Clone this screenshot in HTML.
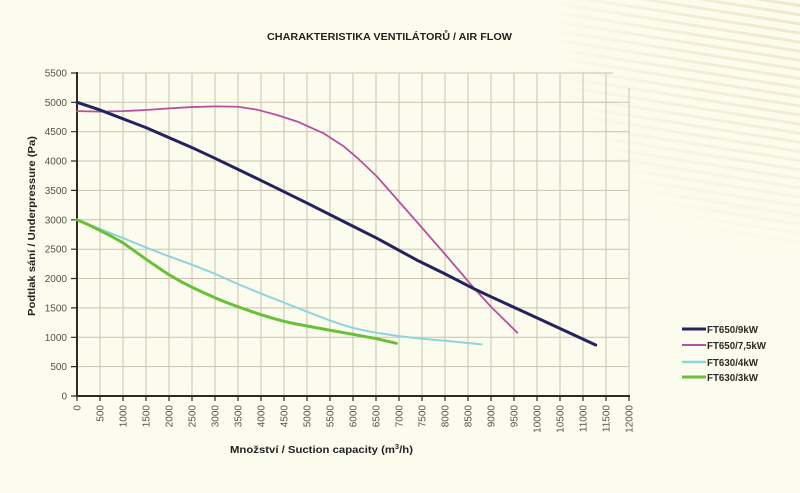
<!DOCTYPE html>
<html>
<head>
<meta charset="utf-8">
<style>
html,body{margin:0;padding:0;}
body{width:800px;height:493px;overflow:hidden;background:#fcfcee;}
svg{display:block;}
</style>
</head>
<body>
<svg width="800" height="493" viewBox="0 0 800 493" xmlns="http://www.w3.org/2000/svg">
<defs>
<pattern id="stripes" patternUnits="userSpaceOnUse" width="900" height="9" patternTransform="rotate(9)">
<rect width="900" height="9" fill="#fcfcee"/>
<rect y="5" width="900" height="3" fill="#efe7c9"/>
</pattern>
<radialGradient id="fade" cx="800" cy="0" r="260" gradientUnits="userSpaceOnUse">
<stop offset="0" stop-color="#fff" stop-opacity="1"/>
<stop offset="0.5" stop-color="#fff" stop-opacity="0.65"/>
<stop offset="1" stop-color="#fff" stop-opacity="0"/>
</radialGradient>
<mask id="m">
<rect x="0" y="0" width="800" height="493" fill="url(#fade)"/>
</mask>
</defs>
<rect width="800" height="493" fill="#fcfcee"/>
<rect x="560" y="0" width="240" height="300" fill="url(#stripes)" mask="url(#m)"/>

<!-- grid -->
<g stroke="#c2b8a5" stroke-width="1" fill="none" opacity="0.85">
<path d="M77 366.6H629M77 337.3H629M77 307.9H629M77 278.5H629M77 249.2H629M77 219.8H629M77 190.4H629M77 161H629M77 131.7H629M77 102.3H629M77 73H613"/>
<path d="M100 73V396M123 73V396M146 73V396M169 73V396M192 73V396M215 73V396M238 73V396M261 73V396M284 73V396M307 73V396M330 73V396M353 73V396M376 73V396M399 73V396M422 73V396M445 73V396M468 73V396M491 73V396M514 73V396M537 73V396M560 73V396M583 73V396M606 73V396M629 88V396"/>
</g>

<!-- axes -->
<g stroke="#2e2c22" stroke-width="2" fill="none">
<path d="M77 72V397M76 396H630"/>
</g>
<g stroke="#2e2c22" stroke-width="1.2" fill="none">
<path d="M71 396H77M71 366.6H77M71 337.3H77M71 307.9H77M71 278.5H77M71 249.2H77M71 219.8H77M71 190.4H77M71 161H77M71 131.7H77M71 102.3H77M71 73H77"/>
<path d="M77 396V401M100 396V401M123 396V401M146 396V401M169 396V401M192 396V401M215 396V401M238 396V401M261 396V401M284 396V401M307 396V401M330 396V401M353 396V401M376 396V401M399 396V401M422 396V401M445 396V401M468 396V401M491 396V401M514 396V401M537 396V401M560 396V401M583 396V401M606 396V401M629 396V401"/>
</g>

<!-- y tick labels -->
<g font-family="Liberation Sans, sans-serif" font-size="10" fill="#55534a" text-anchor="end">
<text x="67" y="399.5">0</text>
<text x="67" y="370.1">500</text>
<text x="67" y="340.8">1000</text>
<text x="67" y="311.4">1500</text>
<text x="67" y="282">2000</text>
<text x="67" y="252.7">2500</text>
<text x="67" y="223.3">3000</text>
<text x="67" y="193.9">3500</text>
<text x="67" y="164.5">4000</text>
<text x="67" y="135.2">4500</text>
<text x="67" y="105.8">5000</text>
<text x="67" y="76.5">5500</text>
</g>

<!-- x tick labels -->
<g font-family="Liberation Sans, sans-serif" font-size="10" fill="#55534a" text-anchor="end">
<text transform="translate(80.5,405) rotate(-90)">0</text>
<text transform="translate(103.5,405) rotate(-90)">500</text>
<text transform="translate(126.5,405) rotate(-90)">1000</text>
<text transform="translate(149.5,405) rotate(-90)">1500</text>
<text transform="translate(172.5,405) rotate(-90)">2000</text>
<text transform="translate(195.5,405) rotate(-90)">2500</text>
<text transform="translate(218.5,405) rotate(-90)">3000</text>
<text transform="translate(241.5,405) rotate(-90)">3500</text>
<text transform="translate(264.5,405) rotate(-90)">4000</text>
<text transform="translate(287.5,405) rotate(-90)">4500</text>
<text transform="translate(310.5,405) rotate(-90)">5000</text>
<text transform="translate(333.5,405) rotate(-90)">5500</text>
<text transform="translate(356.5,405) rotate(-90)">6000</text>
<text transform="translate(379.5,405) rotate(-90)">6500</text>
<text transform="translate(402.5,405) rotate(-90)">7000</text>
<text transform="translate(425.5,405) rotate(-90)">7500</text>
<text transform="translate(448.5,405) rotate(-90)">8000</text>
<text transform="translate(471.5,405) rotate(-90)">8500</text>
<text transform="translate(494.5,405) rotate(-90)">9000</text>
<text transform="translate(517.5,405) rotate(-90)">9500</text>
<text transform="translate(540.5,405) rotate(-90)">10000</text>
<text transform="translate(563.5,405) rotate(-90)">10500</text>
<text transform="translate(586.5,405) rotate(-90)">11000</text>
<text transform="translate(609.5,405) rotate(-90)">11500</text>
<text transform="translate(632.5,405) rotate(-90)">12000</text>
</g>

<!-- series -->
<g transform="translate(77,396) scale(0.046,-0.05873)" fill="none" stroke-linejoin="round" stroke-linecap="round">
<polyline vector-effect="non-scaling-stroke" stroke="#8ed5da" stroke-width="2"
 points="0,3000 500,2845 1000,2690 1500,2530 2000,2378 2500,2235 3000,2080 3500,1905 4000,1745 4500,1590 5000,1435 5500,1285 5750,1218 6000,1160 6250,1115 6500,1078 7000,1020 7500,975 8000,940 8797,880"/>
<polyline vector-effect="non-scaling-stroke" stroke="#6abf3a" stroke-width="3"
 points="0,3000 250,2915 500,2820 750,2718 1000,2608 1250,2470 1500,2330 1750,2195 2000,2065 2250,1952 2500,1852 2750,1760 3000,1672 3250,1592 3500,1520 3750,1450 4000,1385 4250,1325 4500,1272 4750,1228 5000,1192 5500,1120 6000,1050 6500,978 6942,897"/>
<polyline vector-effect="non-scaling-stroke" stroke="#b8509e" stroke-width="1.8"
 points="0,4850 500,4842 1000,4850 1500,4870 2000,4898 2500,4920 3000,4932 3500,4925 3913,4875 4348,4785 4800,4670 5362,4472 5800,4250 6100,4050 6522,3735 7000,3310 7500,2865 8109,2316 8652,1817 9000,1520 9572,1078"/>
<polyline vector-effect="non-scaling-stroke" stroke="#23235e" stroke-width="3"
 points="0,5000 500,4870 1000,4720 1500,4570 2000,4400 2500,4230 3000,4047 4000,3670 5000,3285 6000,2890 6522,2685 7384,2316 8000,2080 8652,1817 9000,1690 10065,1306 11276,868"/>
</g>

<!-- legend -->
<g stroke-width="3" fill="none">
<line x1="682" y1="329" x2="706" y2="329" stroke="#23235e"/>
<line x1="682" y1="345" x2="706" y2="345" stroke="#b8509e" stroke-width="2"/>
<line x1="682" y1="362" x2="706" y2="362" stroke="#8ed5da" stroke-width="2.5"/>
<line x1="682" y1="377" x2="706" y2="377" stroke="#6abf3a"/>
</g>
<g font-family="Liberation Sans, sans-serif" font-size="10" font-weight="bold" fill="#2a2a26">
<text x="707" y="333" textLength="51" lengthAdjust="spacingAndGlyphs">FT650/9kW</text>
<text x="707" y="349" textLength="59" lengthAdjust="spacingAndGlyphs">FT650/7,5kW</text>
<text x="707" y="366" textLength="51" lengthAdjust="spacingAndGlyphs">FT630/4kW</text>
<text x="707" y="381" textLength="51" lengthAdjust="spacingAndGlyphs">FT630/3kW</text>
</g>

<!-- title -->
<text x="267" y="40" font-family="Liberation Sans, sans-serif" font-size="10" font-weight="bold" fill="#222" textLength="245" lengthAdjust="spacingAndGlyphs">CHARAKTERISTIKA VENTILÁTORŮ / AIR FLOW</text>

<!-- x axis label -->
<text x="230" y="453" font-family="Liberation Sans, sans-serif" font-size="10.5" font-weight="bold" fill="#222" textLength="183" lengthAdjust="spacingAndGlyphs">Množství / Suction capacity (m<tspan font-size="7" dy="-4">3</tspan><tspan dy="4">/h)</tspan></text>

<!-- y axis label -->
<text transform="translate(35,316) rotate(-90)" font-family="Liberation Sans, sans-serif" font-size="10.5" font-weight="bold" fill="#222" textLength="180" lengthAdjust="spacingAndGlyphs">Podtlak sání / Underpressure  (Pa)</text>
</svg>
</body>
</html>
